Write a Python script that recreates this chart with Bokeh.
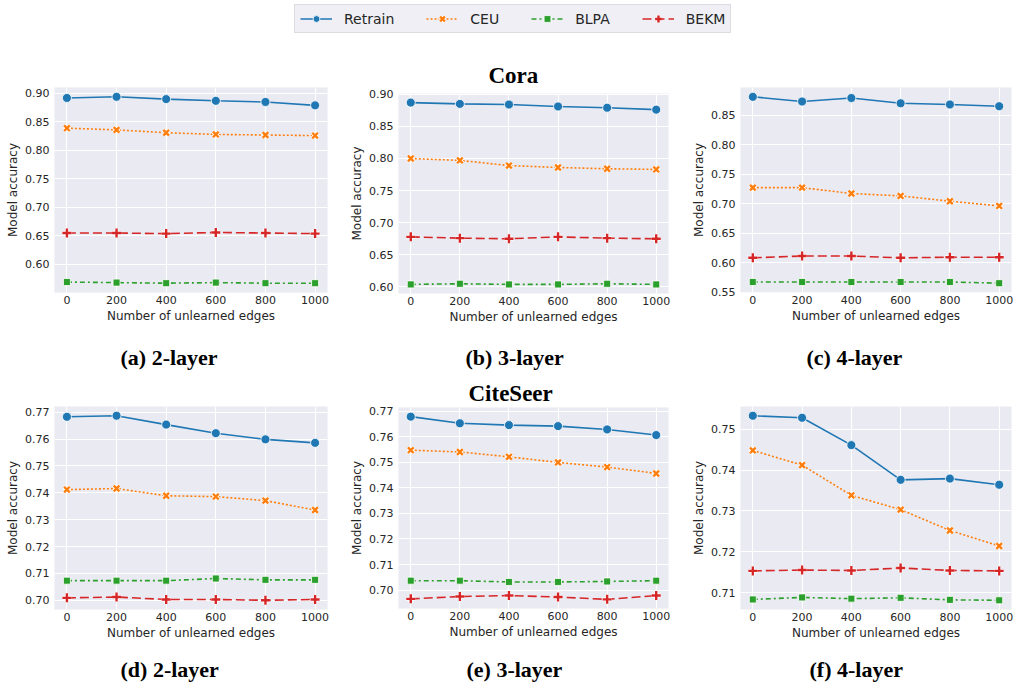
from bokeh.plotting import figure
from bokeh.layouts import column, row
from bokeh.models import (Range1d, FixedTicker, NumeralTickFormatter, Legend,
                          LegendItem, Title, Spacer)
from bokeh.embed import file_html
from bokeh.resources import INLINE

# ---------------- data ----------------
edges = [0, 200, 400, 600, 800, 1000]
methods = ["Retrain", "CEU", "BLPA", "BEKM"]

cora2_retrain = [0.892, 0.894, 0.890, 0.887, 0.885, 0.879]
cora2_ceu = [0.839, 0.836, 0.831, 0.828, 0.827, 0.826]
cora2_blpa = [0.569, 0.568, 0.567, 0.568, 0.567, 0.567]
cora2_bekm = [0.655, 0.655, 0.654, 0.656, 0.655, 0.654]

cora3_retrain = [0.887, 0.885, 0.884, 0.881, 0.879, 0.876]
cora3_ceu = [0.800, 0.797, 0.789, 0.786, 0.784, 0.783]
cora3_blpa = [0.604, 0.605, 0.604, 0.604, 0.605, 0.604]
cora3_bekm = [0.678, 0.676, 0.675, 0.678, 0.676, 0.675]

cora4_retrain = [0.881, 0.873, 0.879, 0.870, 0.868, 0.865]
cora4_ceu = [0.727, 0.727, 0.717, 0.713, 0.704, 0.696]
cora4_blpa = [0.567, 0.567, 0.567, 0.567, 0.567, 0.565]
cora4_bekm = [0.608, 0.611, 0.611, 0.608, 0.609, 0.609]

cite2_retrain = [0.7683, 0.7687, 0.7654, 0.7622, 0.7599, 0.7586]
cite2_ceu = [0.7412, 0.7416, 0.7389, 0.7386, 0.7371, 0.7336]
cite2_blpa = [0.7073, 0.7073, 0.7073, 0.7081, 0.7076, 0.7076]
cite2_bekm = [0.7009, 0.7012, 0.7003, 0.7003, 0.7000, 0.7003]

cite3_retrain = [0.7678, 0.7652, 0.7645, 0.7641, 0.7628, 0.7606]
cite3_ceu = [0.7547, 0.7540, 0.7521, 0.7499, 0.7481, 0.7456]
cite3_blpa = [0.7037, 0.7037, 0.7032, 0.7032, 0.7034, 0.7037]
cite3_bekm = [0.6966, 0.6975, 0.6979, 0.6973, 0.6964, 0.6979]

cite4_retrain = [0.7533, 0.7528, 0.7461, 0.7376, 0.7379, 0.7364]
cite4_ceu = [0.7448, 0.7412, 0.7338, 0.7303, 0.7252, 0.7214]
cite4_blpa = [0.7083, 0.7088, 0.7085, 0.7087, 0.7082, 0.7081]
cite4_bekm = [0.7153, 0.7155, 0.7154, 0.7160, 0.7154, 0.7153]

yticks_cora23 = [0.60, 0.65, 0.70, 0.75, 0.80, 0.85, 0.90]
yticks_cora4 = [0.55, 0.60, 0.65, 0.70, 0.75, 0.80, 0.85]
yticks_cite23 = [0.70, 0.71, 0.72, 0.73, 0.74, 0.75, 0.76, 0.77]
yticks_cite4 = [0.71, 0.72, 0.73, 0.74, 0.75]

x_label = "Number of unlearned edges"
y_label = "Model accuracy"
captions = ["(a) 2-layer", "(b) 3-layer", "(c) 4-layer",
            "(d) 2-layer", "(e) 3-layer", "(f) 4-layer"]
dataset_titles = ["Cora", "CiteSeer"]

# ---------------- styles ----------------
colors = {"Retrain": "#1f77b4", "CEU": "#ff7f0e", "BLPA": "#2ca02c", "BEKM": "#d62728"}
dashes = {"Retrain": "solid", "CEU": "2 2", "BLPA": "5 3 2 3", "BEKM": "9 4"}
TXT = "#262626"
BG = "#EAEAF2"
SERIF = "Liberation Serif"


def add_series(p, name, xs, ys):
    c = colors[name]
    rs = [p.line(xs, ys, line_color=c, line_width=1.6, line_dash=dashes[name])]
    if name == "Retrain":
        rs.append(p.scatter(xs, ys, marker="circle", size=9, fill_color=c,
                            line_color="white", line_width=0.8))
    elif name == "CEU":
        rs.append(p.scatter(xs, ys, marker="x", size=8, line_color="white", line_width=4))
        rs.append(p.scatter(xs, ys, marker="x", size=8, line_color=c, line_width=2.4))
    elif name == "BLPA":
        rs.append(p.scatter(xs, ys, marker="square", size=7, fill_color=c,
                            line_color="white", line_width=0.8))
    else:
        rs.append(p.scatter(xs, ys, marker="cross", size=9, line_color="white", line_width=4))
        rs.append(p.scatter(xs, ys, marker="cross", size=9, line_color=c, line_width=2.4))
    return rs


def panel(series, yticks, bl, fw, br, bt, fh, bb, caption, cap_off, cap_gap,
          title=None, title_off=0, title_standoff=4):
    allv = [v for s in series for v in s]
    lo, hi = min(allv), max(allv)
    pad = (hi - lo) * 0.05
    p = figure(title=None, frame_width=fw, frame_height=fh,
               min_border_left=bl, min_border_right=br,
               min_border_top=bt, min_border_bottom=bb,
               x_range=Range1d(-50, 1050), y_range=Range1d(lo - pad, hi + pad),
               toolbar_location=None, output_backend="svg",
               background_fill_color=BG, border_fill_color="white",
               outline_line_color=None)
    for name, ys in zip(methods, series):
        add_series(p, name, edges, ys)
    p.xaxis.ticker = FixedTicker(ticks=edges)
    p.yaxis.ticker = FixedTicker(ticks=yticks)
    p.yaxis.formatter = NumeralTickFormatter(format="0.00")
    p.xaxis.axis_label = x_label
    p.yaxis.axis_label = y_label
    for ax in (p.xaxis[0], p.yaxis[0]):
        ax.axis_line_color = None
        ax.major_tick_line_color = None
        ax.minor_tick_line_color = None
        ax.major_tick_out = 0
        ax.major_tick_in = 0
        ax.major_label_text_font = "DejaVu Sans"
        ax.major_label_text_font_size = "11px"
        ax.major_label_text_color = TXT
        ax.axis_label_text_font = "DejaVu Sans"
        ax.axis_label_text_font_size = "12px"
        ax.axis_label_text_font_style = "normal"
        ax.axis_label_text_color = TXT
    p.xaxis.major_label_standoff = 3
    p.xaxis.axis_label_standoff = 2
    p.yaxis.major_label_standoff = 5
    p.yaxis.axis_label_standoff = 2
    p.grid.grid_line_color = "white"
    p.grid.grid_line_width = 1.1
    # gap between the x axis and the sub-figure caption
    p.add_layout(Title(text="\u00a0", text_font_size="1px", standoff=cap_gap), "below")
    p.add_layout(Title(text=caption, align="left", offset=cap_off, standoff=2,
                       text_font=SERIF, text_font_style="bold",
                       text_font_size="22px", text_color="black"), "below")
    if title:
        p.add_layout(Title(text=title, align="left", offset=title_off,
                           standoff=title_standoff, text_font=SERIF,
                           text_font_style="bold", text_font_size="23px",
                           text_color="black"), "above")
    return p


# ---------------- legend strip ----------------
lg = figure(title=None, width=1014, height=40, x_range=Range1d(-3, -2), y_range=Range1d(-3, -2),
            min_border=0, toolbar_location=None, output_backend="svg",
            outline_line_color=None, x_axis_type=None, y_axis_type=None,
            background_fill_color="white", border_fill_color="white")
items = []
for m, ys in zip(methods, [cora2_retrain, cora2_ceu, cora2_blpa, cora2_bekm]):
    rs = add_series(lg, m, edges, ys)
    items.append(LegendItem(label=m, renderers=rs))
leg = Legend(items=items, orientation="horizontal", location=(294, 7),
             glyph_width=32, glyph_height=17, label_height=17, label_width=10,
             label_standoff=12, spacing=32, padding=5, margin=0,
             label_text_font="DejaVu Sans", label_text_font_size="14px",
             label_text_color=TXT, background_fill_color="#EFEFF5",
             background_fill_alpha=1.0, border_line_color="#CCCCCC",
             border_line_width=1)
lg.add_layout(leg, "center")

# ---------------- panels ----------------
pa = panel([cora2_retrain, cora2_ceu, cora2_blpa, cora2_bekm], yticks_cora23,
           54, 273, 20, 47, 205, 84, captions[0], 66, 13)
pb = panel([cora3_retrain, cora3_ceu, cora3_blpa, cora3_bekm], yticks_cora23,
           50, 270, 20, 41, 200, 83, captions[1], 67, 12,
           title=dataset_titles[0], title_off=90, title_standoff=12)
pc = panel([cora4_retrain, cora4_ceu, cora4_blpa, cora4_bekm], yticks_cora4,
           52, 271, 4, 47, 205, 84, captions[2], 66, 13)

pd_ = panel([cite2_retrain, cite2_ceu, cite2_blpa, cite2_bekm], yticks_cite23,
            54, 273, 20, 30, 203, 79, captions[3], 66, 8)
pe = panel([cite3_retrain, cite3_ceu, cite3_blpa, cite3_bekm], yticks_cite23,
           50, 270, 20, 31, 201, 80, captions[4], 68, 9,
           title=dataset_titles[1], title_off=70, title_standoff=3)
pf = panel([cite4_retrain, cite4_ceu, cite4_blpa, cite4_bekm], yticks_cite4,
           52, 271, 4, 30, 203, 79, captions[5], 69, 8)

layout = column(lg,
                row(pa, column(Spacer(height=12), pb), pc),
                row(pd_, column(pe), pf))
open("out.html", "w").write(file_html(layout, INLINE))
